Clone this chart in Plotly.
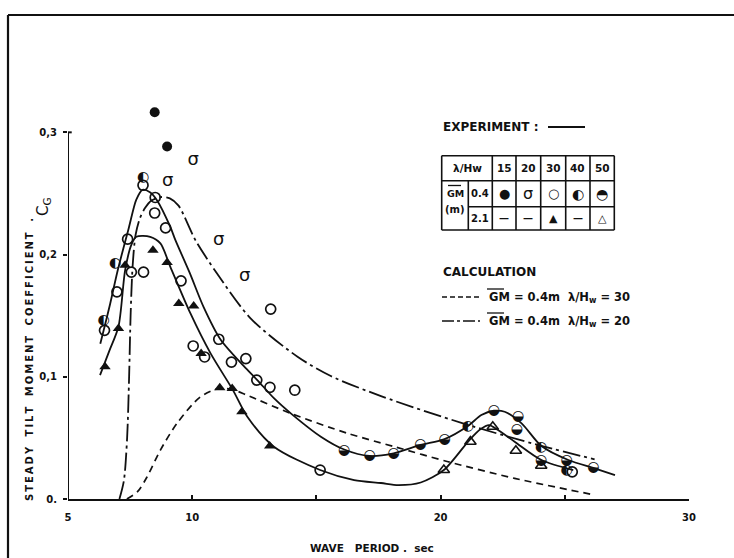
import plotly.graph_objects as go

# ---------------- data ----------------
# Faired experimental curve, GM = 0.4 m
exp04_period = [6.30, 6.70, 7.00, 7.45, 7.75, 8.00, 8.30, 8.58, 9.12, 9.32, 9.90, 10.46,
                11.14, 12.08, 12.62, 13.30, 13.97, 15.18, 16.12, 17.14, 18.11, 19.19,
                20.16, 21.10, 21.64, 22.14, 22.58, 23.26, 24.06, 25.14, 26.20, 27.02]
exp04_cg = [0.127, 0.160, 0.187, 0.222, 0.245, 0.253, 0.251, 0.2445, 0.2226, 0.212, 0.185,
            0.157, 0.1305, 0.1087, 0.0973, 0.0823, 0.0701, 0.051, 0.0405, 0.0352, 0.0374,
            0.0442, 0.049, 0.0597, 0.0687, 0.0722, 0.0714, 0.0619, 0.0433, 0.0319,
            0.0251, 0.0196]

# Faired experimental curve, GM = 2.1 m
exp21_period = [6.29, 6.66, 7.03, 7.30, 7.55, 7.75, 8.31, 8.72, 9.12, 9.93, 10.74, 11.64,
                12.22, 13.29, 15.15, 16.52, 17.60, 18.30, 19.20, 20.13, 21.15, 21.60,
                21.95, 22.31, 22.98, 24.06, 25.34]
exp21_cg = [0.1014, 0.121, 0.1409, 0.1872, 0.208, 0.2145, 0.2145, 0.2091, 0.190, 0.1518,
            0.1191, 0.0891, 0.0673, 0.0428, 0.0237, 0.0155, 0.0131, 0.0114, 0.0135,
            0.0237, 0.048, 0.057, 0.0605, 0.0564, 0.0469, 0.0319, 0.0237]

# Calculation, GM = 0.4 m, lambda/Hw = 20
calc20_period = [7.07, 7.25, 7.38, 7.46, 7.52, 7.60, 7.72, 7.90, 8.10, 8.35, 8.72, 9.10,
                 9.45, 10.13, 11.00, 12.35, 14.24, 15.58, 17.60, 20.90, 24.05, 26.20]
calc20_cg = [0.0, 0.015, 0.050, 0.100, 0.150, 0.190, 0.216, 0.230, 0.238, 0.244, 0.247,
             0.246, 0.240, 0.2118, 0.1845, 0.1478, 0.1164, 0.1006, 0.0842, 0.0619,
             0.0435, 0.0325]

# Calculation, GM = 0.4 m, lambda/Hw = 30
calc30_period = [7.37, 7.80, 8.18, 8.72, 9.39, 10.33, 11.10, 11.70, 12.20, 13.97, 16.26,
                 18.14, 20.30, 22.98, 26.20]
calc30_cg = [0.0, 0.006, 0.018, 0.040, 0.062, 0.0836, 0.0905, 0.089, 0.085, 0.070,
             0.0537, 0.0428, 0.0305, 0.0169, 0.0033]

# Measured points, GM = 0.4 m
gm04_h15_t = [8.49, 8.99]
gm04_h15_cg = [0.3164, 0.2884]
gm04_h20_t = [10.04, 9.01, 11.07, 12.11]
gm04_h20_cg = [0.2772, 0.260, 0.2118, 0.1818]
gm04_h30_t = [8.02, 8.51, 8.49, 8.93, 7.40, 7.55, 8.04, 6.97, 6.47, 9.55, 13.16, 10.04,
              11.07, 10.50, 11.58, 12.16, 12.60, 13.13, 14.13, 15.15, 25.30]
gm04_h30_cg = [0.2567, 0.2467, 0.234, 0.2218, 0.2126, 0.1856, 0.1856, 0.1695, 0.138,
               0.1785, 0.1554, 0.1252, 0.1307, 0.1162, 0.112, 0.1149, 0.0973, 0.0914,
               0.089, 0.0237, 0.0222]
gm04_h40_t = [8.02, 6.90, 6.43, 21.10, 24.05, 25.07]
gm04_h40_cg = [0.263, 0.1927, 0.1464, 0.0597, 0.0424, 0.0231]
gm04_h50_t = [16.12, 17.14, 18.11, 19.19, 20.16, 22.14, 23.12, 23.07, 24.05, 25.07, 26.15]
gm04_h50_cg = [0.0398, 0.0352, 0.0374, 0.0442, 0.049, 0.0722, 0.0678, 0.0568, 0.0314,
               0.0314, 0.0259]

# Measured points, GM = 2.1 m
gm21_h30_t = [6.49, 7.03, 7.30, 8.42, 8.99, 9.46, 10.06, 10.36, 11.11, 11.61, 12.00, 13.12]
gm21_h30_cg = [0.1082, 0.1396, 0.1913, 0.2036, 0.1935, 0.160, 0.158, 0.1191, 0.091,
               0.0905, 0.0714, 0.0433]
gm21_h50_t = [20.13, 21.20, 22.10, 23.03, 24.05]
gm21_h50_cg = [0.0237, 0.0469, 0.0591, 0.0395, 0.0272]

x_tick_vals = [5, 10, 15, 20, 25, 30]
x_tick_text = ["5", "10", "", "20", "", "30"]
y_tick_vals = [0.0, 0.1, 0.2, 0.3]
y_tick_text = ["0.", "0,1", "0,2", "0,3"]

# table of symbols (lambda/Hw columns)
table_cols = ["15", "20", "30", "40", "50"]
table_row_gm04 = ["●", "σ", "○", "◐", "◓"]
table_row_gm21 = ["—", "—", "▲", "—", "△"]

# ---------------- figure geometry (pixels) ----------------
W, H = 734, 558
ML, MR, MT, MB = 68, 45, 59, 59
PW, PH = W - ML - MR, H - MT - MB
FONT = "DejaVu Sans"
INK = "#111111"


def px(x):
    return (x - ML) / PW


def py(y):
    return (H - MB - y) / PH


def spaced(text, gap="\u00a0\u00a0\u00a0"):
    words = text.split(" ")
    return gap.join("\u2009".join(w) for w in words)


fig = go.Figure()

line_common = dict(color=INK, shape="spline", smoothing=0.8)
fig.add_trace(go.Scatter(x=exp04_period, y=exp04_cg, mode="lines",
                         line=dict(width=1.8, **line_common)))
fig.add_trace(go.Scatter(x=exp21_period, y=exp21_cg, mode="lines",
                         line=dict(width=1.8, **line_common)))
fig.add_trace(go.Scatter(x=calc20_period, y=calc20_cg, mode="lines",
                         line=dict(width=1.8, dash="18px,4px,3px,4px", **line_common)))
fig.add_trace(go.Scatter(x=calc30_period, y=calc30_cg, mode="lines",
                         line=dict(width=1.7, dash="7px,5px", **line_common)))

# measured points
fig.add_trace(go.Scatter(x=gm04_h15_t, y=gm04_h15_cg, mode="markers",
                         marker=dict(symbol="circle", size=10, color=INK)))
fig.add_trace(go.Scatter(x=gm04_h30_t, y=gm04_h30_cg, mode="markers",
                         marker=dict(symbol="circle-open", size=10, color=INK,
                                     line=dict(width=1.7, color=INK))))
fig.add_trace(go.Scatter(x=gm04_h20_t, y=gm04_h20_cg, mode="text", text=["σ"] * len(gm04_h20_t),
                         textposition="middle center",
                         textfont=dict(family=FONT, size=18, color=INK)))
# half-filled circles drawn as glyphs
fig.add_trace(go.Scatter(x=gm04_h40_t, y=gm04_h40_cg, mode="text", text=["◐"] * len(gm04_h40_t),
                         textposition="middle center",
                         textfont=dict(family=FONT, size=14, color=INK)))
fig.add_trace(go.Scatter(x=gm04_h50_t, y=gm04_h50_cg, mode="text", text=["◒"] * len(gm04_h50_t),
                         textposition="middle center",
                         textfont=dict(family=FONT, size=14, color=INK)))
fig.add_trace(go.Scatter(x=gm21_h30_t, y=gm21_h30_cg, mode="markers",
                         marker=dict(symbol="triangle-up", size=10, color=INK)))
fig.add_trace(go.Scatter(x=gm21_h50_t, y=gm21_h50_cg, mode="markers",
                         marker=dict(symbol="triangle-up-open", size=10, color=INK,
                                     line=dict(width=1.6, color=INK))))

shapes = []
annotations = []


def pline(x0, y0, x1, y1, width=1.6, dash="solid"):
    shapes.append(dict(type="line", xref="paper", yref="paper",
                       x0=px(x0), y0=py(y0), x1=px(x1), y1=py(y1),
                       line=dict(color=INK, width=width, dash=dash)))


def ptext(text, x, y, size=10, xanchor="center", angle=0, bold=True):
    annotations.append(dict(text=f"<b>{text}</b>" if bold else text,
                            xref="paper", yref="paper", x=px(x), y=py(y),
                            xanchor=xanchor, yanchor="middle", showarrow=False,
                            textangle=angle,
                            font=dict(family=FONT, size=size, color=INK)))


# page frame
pline(8, 15, 734, 15, width=2.2)
pline(8, 15, 8, 558, width=2.2)

# y axis line up to 0.3 with its end tick
shapes.append(dict(type="line", xref="x", yref="y", x0=5, y0=0, x1=5, y1=0.3,
                   line=dict(color=INK, width=2)))
shapes.append(dict(type="line", xref="x", yref="y", x0=4.95, y0=0.3, x1=5.15, y1=0.3,
                   line=dict(color=INK, width=2)))

# experiment legend
ptext("EXPERIMENT :", 441, 127, size=12, xanchor="left")
pline(548, 127, 585, 127, width=1.8)

# symbol table
tl, tr, tt, tb = 441.7, 614.3, 155.7, 230.0
r1, r2 = 180.7, 206.7
col_x = [492.3, 516.0, 540.7, 565.7, 590.0]
pline(tl, tt, tr, tt)
pline(tl, tb, tr, tb)
pline(tl, tt, tl, tb)
pline(tr, tt, tr, tb)
pline(tl, r1, tr, r1)
pline(468.3, r2, tr, r2)
pline(468.3, r1, 468.3, tb)
for cx in col_x:
    pline(cx, tt, cx, tb)

col_centers = [(a + b) / 2 for a, b in zip(col_x, col_x[1:] + [tr])]
row1_y, row2_y, row3_y = (tt + r1) / 2, (r1 + r2) / 2, (r2 + tb) / 2
ptext("λ/Hw", (tl + col_x[0]) / 2, row1_y, size=10.5)
for cx, lab in zip(col_centers, table_cols):
    ptext(lab, cx, row1_y, size=10.5)
ptext("0.4", 480.3, row2_y, size=10)
ptext("2.1", 480.3, row3_y, size=10)
ptext("GM", 455.0, 194.0, size=9.5)
pline(448, 185.5, 461, 185.5, width=1.3)
ptext("(m)", 455.0, 210.0, size=10)
sym_size = {"●": 13, "σ": 16, "○": 13, "◐": 14, "◓": 14, "—": 10, "▲": 11, "△": 11}
for cx, s in zip(col_centers, table_row_gm04):
    ptext(s, cx, row2_y, size=sym_size[s], bold=(s != "σ"))
for cx, s in zip(col_centers, table_row_gm21):
    ptext(s, cx, row3_y, size=sym_size[s], bold=True)

# calculation legend
ptext("CALCULATION", 441, 272, size=12, xanchor="left")
pline(442, 297, 480, 297, width=1.6, dash="5px,3px")
pline(442, 321, 480, 321, width=1.6, dash="12px,3px,3px,3px")
ptext("GM = 0.4m  λ/H<sub>w</sub> = 30", 487, 297, size=11.5, xanchor="left")
ptext("GM = 0.4m  λ/H<sub>w</sub> = 20", 487, 321, size=11.5, xanchor="left")
pline(487, 289, 504, 289, width=1.3)
pline(487, 313, 504, 313, width=1.3)

# axis titles
ptext(spaced("STEADY TILT MOMENT COEFFICIENT ."), 29, 360, size=10, angle=-90)
ptext("C<sub>G</sub>", 44, 207, size=15, angle=-90, bold=False)
ptext("WAVE\u00a0\u00a0\u00a0PERIOD\u00a0.\u00a0\u00a0sec", 372, 548, size=10.5)

fig.update_layout(
    width=W, height=H,
    margin=dict(l=ML, r=MR, t=MT, b=MB, pad=0),
    paper_bgcolor="white", plot_bgcolor="white",
    showlegend=False,
    shapes=shapes, annotations=annotations,
    font=dict(family=FONT, color=INK),
    xaxis=dict(range=[5, 30], tickvals=x_tick_vals, ticktext=x_tick_text,
               showgrid=False, zeroline=False, showline=True, linewidth=2,
               linecolor=INK, ticks="inside", ticklen=4, tickwidth=1.5, tickcolor=INK,
               tickfont=dict(family=FONT, size=10, color=INK, weight="bold"),
               ticklabelstandoff=8),
    yaxis=dict(range=[0, 0.36], tickvals=y_tick_vals, ticktext=y_tick_text,
               showgrid=False, zeroline=False, showline=False,
               ticks="outside", ticklen=4, tickwidth=1.5, tickcolor=INK,
               tickfont=dict(family=FONT, size=10, color=INK, weight="bold"),
               ticklabelstandoff=4),
)

fig.write_html("out.html")
